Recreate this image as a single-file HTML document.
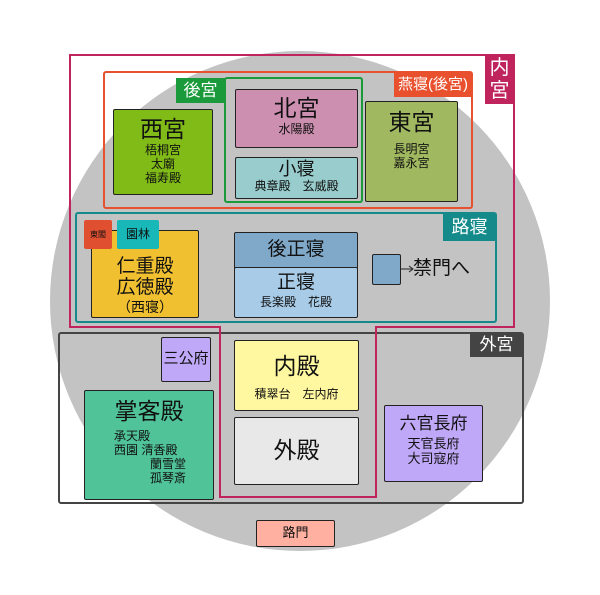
<!DOCTYPE html>
<html><head><meta charset="utf-8"><style>
body{margin:0;background:#fff;width:600px;height:595px;position:relative;overflow:hidden;font-family:"Liberation Sans","Noto Sans CJK JP",sans-serif;}
.b{position:absolute;box-sizing:border-box;border:1.5px solid #222;text-align:center;color:#111;border-radius:2px}
.t{position:absolute;text-align:center;color:#fff;box-sizing:border-box}
.big{font-size:23px;line-height:28px}
.sm{font-size:12px;line-height:14px}
</style></head><body>
<svg width="600" height="595" style="position:absolute;left:0;top:0">
<circle cx="300" cy="301" r="250" fill="#c3c3c3"/>
<rect x="59" y="333" width="464" height="170" fill="none" stroke="#444" stroke-width="2" rx="2"/>
<path d="M70 55 H514 V327 H376 V497 H220 V327 H70 Z" fill="none" stroke="#c0245c" stroke-width="2"/>
<rect x="104" y="72" width="368" height="136" fill="none" stroke="#e8502e" stroke-width="2" rx="2"/>
<rect x="225" y="78" width="137" height="124" fill="none" stroke="#1a9a3a" stroke-width="2" rx="2"/>
<rect x="76" y="213" width="420" height="109" fill="none" stroke="#148a8a" stroke-width="2" rx="2"/>
<line x1="401" y1="269" x2="412" y2="269" stroke="#222" stroke-width="1"/>
<path d="M409 266 L413 269 L409 272" fill="none" stroke="#222" stroke-width="1"/>
</svg>
<div class="t" style="left:485px;top:55px;width:29px;height:49px;background:#c0245c;font-size:20px;line-height:23px;padding-top:2px">内<br>宮</div>
<div class="t" style="left:394px;top:72px;width:78px;height:25px;background:#e8502e;font-size:15px;line-height:25px">燕寝(後宮)</div>
<div class="t" style="left:176px;top:78px;width:49px;height:25px;background:#1a9a3a;font-size:17px;line-height:25px">後宮</div>
<div class="t" style="left:443px;top:213px;width:53px;height:28px;background:#148a8a;font-size:18px;line-height:28px">路寝</div>
<div class="t" style="left:470px;top:333px;width:53px;height:24px;background:#444;font-size:17px;line-height:24px">外宮</div>

<div class="b" style="left:235px;top:89px;width:123px;height:59px;background:#cc8fb0"><div class="big" style="margin-top:4px">北宮</div><div class="sm">水陽殿</div></div>
<div class="b" style="left:235px;top:157px;width:123px;height:42px;background:#99cccc"><div style="font-size:18px;line-height:20px;margin-top:1px">小寝</div><div class="sm">典章殿　玄威殿</div></div>
<div class="b" style="left:113px;top:109px;width:100px;height:86px;background:#80bb18"><div class="big" style="margin-top:5px">西宮</div><div class="sm">梧桐宮<br>太廟<br>福寿殿</div></div>
<div class="b" style="left:365px;top:101px;width:93px;height:101px;background:#a0b860"><div class="big" style="margin-top:6px">東宮</div><div class="sm" style="margin-top:6px">長明宮<br>嘉永宮</div></div>

<div class="b" style="left:91px;top:230px;width:108px;height:88px;background:#f0c030"><div style="font-size:19px;line-height:21px;margin-top:25px">仁重殿<br>広徳殿</div><div style="font-size:14px;line-height:18px">（西寝）</div></div>
<div class="b" style="left:84px;top:220px;width:28px;height:29px;background:#e05030;border:none;font-size:8px;line-height:29px;color:#111;overflow:hidden">東閣</div>
<div class="b" style="left:117px;top:220px;width:42px;height:29px;background:#18b8b8;border:none;font-size:12px;line-height:29px">園林</div>
<div class="b" style="left:234px;top:232px;width:124px;height:37px;background:#80a8c8"><div style="font-size:19px;line-height:34px">後正寝</div></div>
<div class="b" style="left:234px;top:267px;width:124px;height:51px;background:#a8cce8"><div style="font-size:19px;line-height:24px;margin-top:3px">正寝</div><div class="sm">長楽殿　花殿</div></div>
<div class="b" style="left:372px;top:254px;width:29px;height:31px;background:#80a8c8"></div>
<div style="position:absolute;left:413px;top:257px;font-size:19px;line-height:24px;color:#111">禁門へ</div>

<div class="b" style="left:161px;top:337px;width:50px;height:45px;background:#c0a8f8"><div style="font-size:15px;line-height:42px">三公府</div></div>
<div class="b" style="left:234px;top:340px;width:125px;height:71px;background:#fff8a0"><div class="big" style="margin-top:11px">内殿</div><div class="sm" style="margin-top:7px">積翠台　左内府</div></div>
<div class="b" style="left:234px;top:417px;width:125px;height:68px;background:#e8e8e8"><div class="big" style="line-height:64px">外殿</div></div>
<div class="b" style="left:84px;top:390px;width:130px;height:110px;background:#50c498"><div class="big" style="margin-top:6px">掌客殿</div><div class="sm" style="text-align:left;padding-left:29px;margin-top:4px">承天殿<br>西園 清香殿<br>　　　蘭雪堂<br>　　　孤琴斎</div></div>
<div class="b" style="left:384px;top:405px;width:99px;height:77px;background:#c0a8f8"><div style="font-size:17px;line-height:20px;margin-top:8px">六官長府</div><div style="font-size:13px;line-height:15px;margin-top:2px">天官長府<br>大司寇府</div></div>
<div class="b" style="left:256px;top:520px;width:79px;height:27px;background:#ffb0a0"><div style="font-size:13px;line-height:24px">路門</div></div>
</body></html>
